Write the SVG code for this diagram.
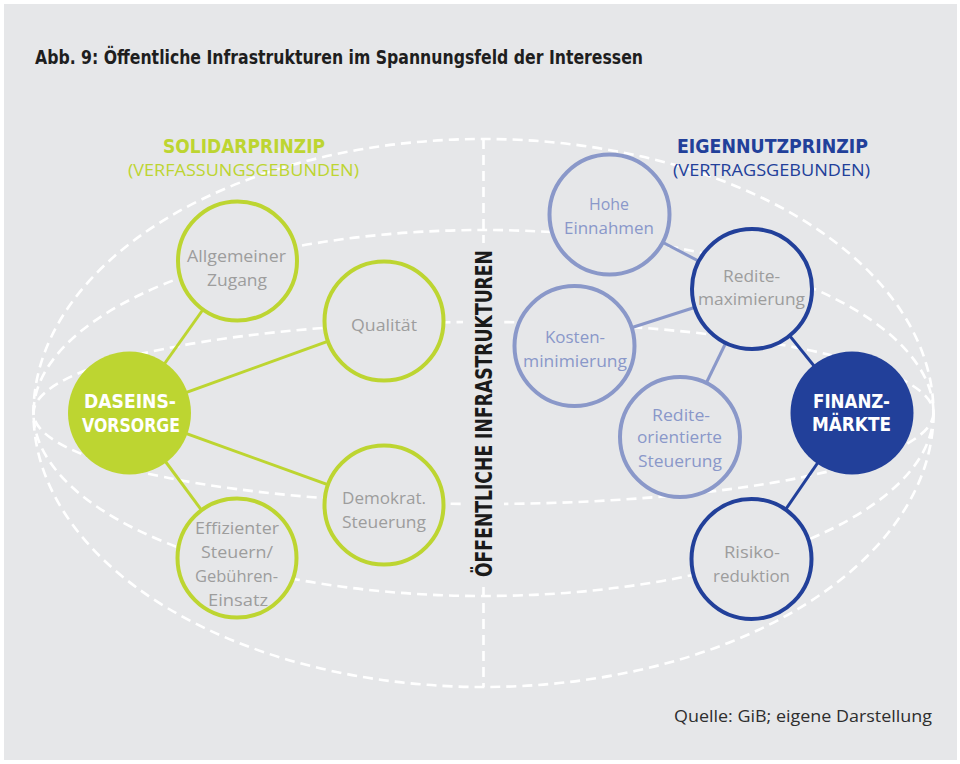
<svg xmlns="http://www.w3.org/2000/svg" width="960" height="764" viewBox="0 0 960 764">
<defs>
<style>
.bg{fill:#e6e7e9}
.dash{fill:none;stroke:#ffffff;stroke-width:2.6;stroke-dasharray:10 6}
.cg{fill:#e6e7e9;stroke:#bdd531;stroke-width:4}
.cl{fill:#e6e7e9;stroke:#8a98c9;stroke-width:4}
.cd{fill:#e6e7e9;stroke:#22409a;stroke-width:4}
.lg{stroke:#bdd531;stroke-width:3}
.ll{stroke:#8a98c9;stroke-width:3}
.ld{stroke:#22409a;stroke-width:3}
.t{font-family:"Open Sans","Liberation Sans",sans-serif;font-size:17px;fill:#9d9d9d;text-anchor:middle}
.tl{fill:#8a98c9}
.b{font-family:"DejaVu Sans Condensed","DejaVu Sans","Liberation Sans",sans-serif;font-stretch:condensed;font-weight:bold}
.w{font-size:20px;fill:#ffffff;text-anchor:middle}
.h{font-size:19px;text-anchor:middle}
.hs{font-family:"Open Sans","Liberation Sans",sans-serif;font-size:17px;text-anchor:middle}
</style>
</defs>
<rect x="4" y="4" width="953" height="756" class="bg"/>
<text x="35" y="64" class="b" font-size="20" fill="#1e1e1e" textLength="608" lengthAdjust="spacingAndGlyphs">Abb. 9: Öffentliche Infrastrukturen im Spannungsfeld der Interessen</text>

<g id="globe">
<ellipse cx="483.5" cy="413" rx="450" ry="274" class="dash"/>
<ellipse cx="483.5" cy="413" rx="450" ry="183" class="dash"/>
<ellipse cx="483.5" cy="413" rx="450" ry="91" class="dash"/>
<line x1="483.5" y1="139" x2="483.5" y2="687" class="dash"/>
<rect x="463" y="243" width="41" height="340" class="bg"/>
</g>

<g id="axis-label">
<text transform="translate(492,413.5) rotate(-90)" class="b" font-size="23" fill="#1a1a1a" text-anchor="middle" textLength="327" lengthAdjust="spacingAndGlyphs">ÖFFENTLICHE INFRASTRUKTUREN</text>
</g>

<g id="headers">
<text x="244" y="153" class="b h" fill="#bdd531" textLength="162" lengthAdjust="spacingAndGlyphs">SOLIDARPRINZIP</text>
<text x="243.5" y="176" class="hs" fill="#bdd531" textLength="231" lengthAdjust="spacingAndGlyphs">(VERFASSUNGSGEBUNDEN)</text>
<text x="772.5" y="153" class="b h" fill="#22409a" textLength="191" lengthAdjust="spacingAndGlyphs">EIGENNUTZPRINZIP</text>
<text x="771.5" y="176" class="hs" fill="#22409a" textLength="197" lengthAdjust="spacingAndGlyphs">(VERTRAGSGEBUNDEN)</text>
</g>

<g id="connectors">
<line x1="129.5" y1="413" x2="237.5" y2="261" class="lg"/>
<line x1="129.5" y1="413" x2="384" y2="321" class="lg"/>
<line x1="129.5" y1="413" x2="384" y2="505" class="lg"/>
<line x1="129.5" y1="413" x2="237" y2="558" class="lg"/>
<line x1="609.5" y1="214.5" x2="752" y2="289" class="ll"/>
<line x1="574.5" y1="346" x2="752" y2="289" class="ll"/>
<line x1="680" y1="437" x2="752" y2="289" class="ll"/>
<line x1="752" y1="289" x2="852" y2="413" class="ld"/>
<line x1="852" y1="413" x2="751.5" y2="559" class="ld"/>
</g>

<g id="daseinsvorsorge">
<circle cx="129.5" cy="413" r="61.5" fill="#bdd531"/>
<text x="130" y="408" class="b w" textLength="92" lengthAdjust="spacingAndGlyphs">DASEINS-</text>
<text x="131" y="432" class="b w" textLength="98" lengthAdjust="spacingAndGlyphs">VORSORGE</text>
</g>
<g id="allgemeiner-zugang">
<circle cx="237.5" cy="261" r="59.5" class="cg"/>
<text x="236.5" y="262" class="t" textLength="99" lengthAdjust="spacingAndGlyphs">Allgemeiner</text>
<text x="237" y="286" class="t" textLength="60" lengthAdjust="spacingAndGlyphs">Zugang</text>
</g>
<g id="qualitaet">
<circle cx="384" cy="321" r="59.5" class="cg"/>
<text x="384" y="331" class="t" textLength="66" lengthAdjust="spacingAndGlyphs">Qualität</text>
</g>
<g id="demokrat-steuerung">
<circle cx="384" cy="505" r="59.5" class="cg"/>
<text x="384" y="504" class="t" textLength="84" lengthAdjust="spacingAndGlyphs">Demokrat.</text>
<text x="384" y="528" class="t" textLength="84" lengthAdjust="spacingAndGlyphs">Steuerung</text>
</g>
<g id="effizienter-einsatz">
<circle cx="237" cy="558" r="59.5" class="cg"/>
<text x="237" y="534" class="t" textLength="84" lengthAdjust="spacingAndGlyphs">Effizienter</text>
<text x="237" y="558" class="t" textLength="72" lengthAdjust="spacingAndGlyphs">Steuern/</text>
<text x="236.5" y="582" class="t" textLength="83" lengthAdjust="spacingAndGlyphs">Gebühren-</text>
<text x="238" y="606" class="t" textLength="60" lengthAdjust="spacingAndGlyphs">Einsatz</text>
</g>

<g id="hohe-einnahmen">
<circle cx="609.5" cy="214.5" r="60" class="cl"/>
<text x="609" y="210" class="t tl" textLength="40" lengthAdjust="spacingAndGlyphs">Hohe</text>
<text x="609" y="234" class="t tl" textLength="90" lengthAdjust="spacingAndGlyphs">Einnahmen</text>
</g>
<g id="renditemaximierung">
<circle cx="752" cy="289" r="60" class="cd"/>
<text x="751.5" y="282" class="t" textLength="57" lengthAdjust="spacingAndGlyphs">Redite-</text>
<text x="751.5" y="305" class="t" textLength="107" lengthAdjust="spacingAndGlyphs">maximierung</text>
</g>
<g id="kostenminimierung">
<circle cx="574.5" cy="346" r="60" class="cl"/>
<text x="575" y="343" class="t tl" textLength="60" lengthAdjust="spacingAndGlyphs">Kosten-</text>
<text x="575" y="367" class="t tl" textLength="104" lengthAdjust="spacingAndGlyphs">minimierung</text>
</g>
<g id="renditeorientierte-steuerung">
<circle cx="680" cy="437" r="60" class="cl"/>
<text x="681" y="421" class="t tl" textLength="58" lengthAdjust="spacingAndGlyphs">Redite-</text>
<text x="679.5" y="443" class="t tl" textLength="85" lengthAdjust="spacingAndGlyphs">orientierte</text>
<text x="680" y="467" class="t tl" textLength="84" lengthAdjust="spacingAndGlyphs">Steuerung</text>
</g>
<g id="finanzmaerkte">
<circle cx="852" cy="413" r="61.5" fill="#22409a"/>
<text x="851.5" y="408" class="b w" textLength="77" lengthAdjust="spacingAndGlyphs">FINANZ-</text>
<text x="851.5" y="431" class="b w" textLength="79" lengthAdjust="spacingAndGlyphs">MÄRKTE</text>
</g>
<g id="risikoreduktion">
<circle cx="751.5" cy="559" r="60" class="cd"/>
<text x="752" y="558" class="t" textLength="56" lengthAdjust="spacingAndGlyphs">Risiko-</text>
<text x="751.5" y="582" class="t" textLength="77" lengthAdjust="spacingAndGlyphs">reduktion</text>
</g>

<text x="674" y="722" font-family="Open Sans, Liberation Sans, sans-serif" font-size="17" fill="#2e2e2e" textLength="258" lengthAdjust="spacingAndGlyphs">Quelle:  GiB; eigene Darstellung</text>
</svg>
